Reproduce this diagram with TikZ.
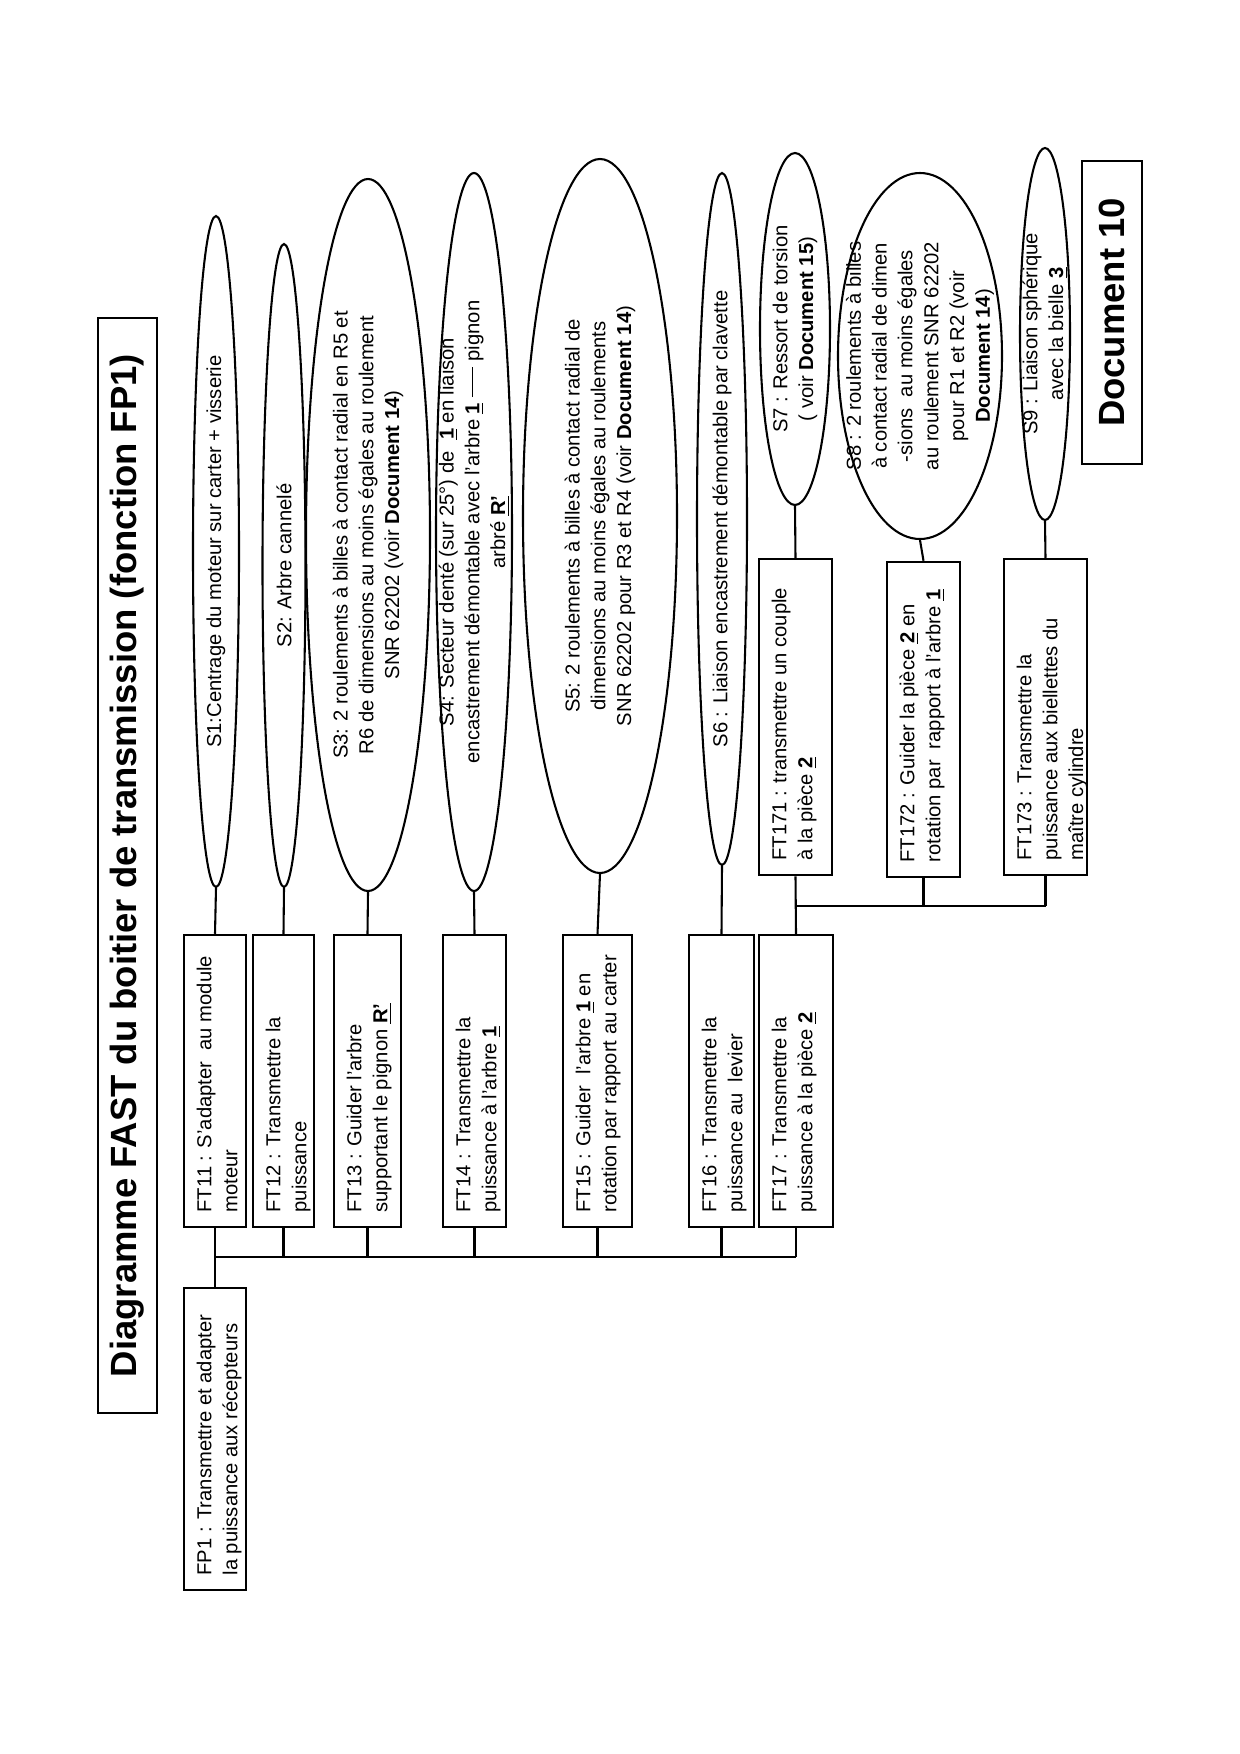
\documentclass[tikz,border=0pt]{standalone}
\usepackage{fontspec}
\setmainfont{Liberation Sans}
\usetikzlibrary{shapes.geometric}
\newcommand\ul[1]{\underline{\textbf{#1}}}
\def\pxpt{0.48}
\def\padh{7}
\def\padv{4.5}
\newcommand\fnt{\fontsize{9.7}{12.4}\selectfont}
\tikzset{
 ftbox/.style={draw, rectangle, line width=1.2pt, rotate=90, inner xsep=\padh pt, inner ysep=\padv pt},
 sell/.style={draw, ellipse, line width=1pt, rotate=90, inner sep=0pt},
 stext/.style={rotate=90, align=center, font=\fnt, inner sep=0pt},
 link/.style={line width=1pt},
 titlebox/.style={draw, rectangle, line width=1.3pt, rotate=90, inner sep=0pt,
   font=\fontsize{17.5}{21}\selectfont\bfseries},
}
% name, xleft, ytop, xright, ybottom, lines
\newcommand\ftnode[6]{%
 \pgfmathsetmacro\tmpw{(#4-#2)*\pxpt-2*\padv}%
 \pgfmathsetmacro\tmph{(#5-#3)*\pxpt-2*\padh}%
 \node[ftbox] (#1) at ({(#2+#4)/2},{(#3+#5)/2})
   {\parbox[c][\tmpw pt][t]{\tmph pt}{\fnt\begin{tabular}{@{}l@{}}#6\end{tabular}}};%
}
% name, cx, cy, half width (page x), half height (page y), text
\newcommand\snode[6]{%
 \pgfmathsetmacro\tmpa{2*#5*\pxpt}%
 \pgfmathsetmacro\tmpb{2*#4*\pxpt}%
 \node[sell, minimum width=\tmpa pt, minimum height=\tmpb pt] (#1) at (#2,#3) {};%
 \node[stext] (#1t) at (#2,#3) {#6};%
}
\begin{document}
\begin{tikzpicture}[x=0.48pt,y=-0.48pt]
\useasboundingbox (0,0) rectangle (1240,1754);
\fill[white] (0,0) rectangle (1240,1754);

% titles
\node[titlebox, minimum width=525.6pt, minimum height=28.3pt] (title) at (127.5,865.5)
  {Diagramme FAST du boitier de transmission (fonction FP1)};
\node[titlebox, minimum width=145.4pt, minimum height=28.8pt] (doc) at (1112,312.5)
  {Document 10};

% function boxes
\ftnode{fp1}{184}{1288}{246}{1590}{FP1 : Transmettre et adapter\\la puissance aux récepteurs}
\ftnode{ft11}{184}{935}{246}{1227}{FT11 : S’adapter \ au module\\moteur}
\ftnode{ft12}{253}{935}{314}{1227}{FT12 : Transmettre la\\puissance}
\ftnode{ft13}{334}{935}{401}{1227}{FT13 : Guider l’arbre\\supportant le pignon \ul{R’}}
\ftnode{ft14}{443}{935}{506}{1227}{FT14 : Transmettre la\\puissance à l’arbre \ul{1}}
\ftnode{ft15}{563}{935}{632}{1227}{FT15 : Guider \ l’arbre \ul{1} en\\rotation par rapport au carter}
\ftnode{ft16}{689}{935}{754}{1227}{FT16 : Transmettre la\\puissance au \ levier}
\ftnode{ft17}{759}{935}{833}{1227}{FT17 : Transmettre la\\puissance à la pièce \ul{2}}
\ftnode{ft171}{759}{559}{832}{875}{FT171 : transmettre un couple\\à la pièce \ul{2}}
\ftnode{ft172}{887}{562}{960}{877}{FT172 : Guider la pièce \ul{2} en\\rotation par \ rapport à l’arbre \ul{1}}
\ftnode{ft173}{1004}{559}{1087}{875}{FT173 : Transmettre la\\puissance aux biellettes du\\maître cylindre}

% solution ellipses
\snode{s1}{216}{551.5}{23}{335.5}{S1:Centrage du moteur sur carter + visserie}
\snode{s2}{284}{565.5}{21.5}{321.5}{S2: Arbre cannelé}
\snode{s3}{368}{535}{62}{356}{S3: 2 roulements à billes à contact radial en R5 et\\R6 de dimensions au moins égales au roulement\\SNR 62202 (voir \textbf{Document 14})}
\snode{s4}{474}{532}{38}{359}{S4: Secteur denté (sur 25°) de \ \ul{1} en liaison\\encastrement démontable avec l’arbre \ul{1} \rule[0.3em]{1.5em}{0.07em} pignon\\arbré \ul{R’}}
\snode{s5}{600}{516}{77}{357}{S5: 2 roulements à billes à contact radial de\\dimensions au moins égales au roulements\\SNR 62202 pour R3 et R4 (voir \textbf{Document 14})}
\snode{s6}{722}{519}{25}{346}{S6 : Liaison encastrement démontable par clavette}
\snode{s7}{795}{329}{35}{176}{S7 : Ressort de torsion\\( voir \textbf{Document 15})}
\snode{s8}{920}{356}{82}{183}{S8 : 2 roulements à billes\\à contact radial de dimen\\-sions \ au moins égales\\au roulement SNR 62202\\pour R1 et R2 (voir\\\textbf{Document 14})}
\snode{s9}{1045}{334}{25}{186}{S9 : Liaison sphérique\\avec la bielle \ul{3}}

% main bus
\coordinate (busy) at (0,1257);
\coordinate (subbusy) at (0,906);
\draw[link] (fp1.east) -- (fp1.east |- busy);
\draw[link] (ft11.west |- busy) -- (ft17.west |- busy);
\foreach \n in {ft11,ft12,ft13,ft14,ft15,ft16,ft17}
  \draw[link] (\n.west) -- (\n.west |- busy);
% links to solutions
\draw[link] (ft11.east) -- (s1.west);
\draw[link] (ft12.east) -- (s2.west);
\draw[link] (ft13.east) -- (s3.west);
\draw[link] (ft14.east) -- (s4.west);
\draw[link] (ft15.east) -- (s5.west);
\draw[link] (ft16.east) -- (s6.west);
% FT17 sub-branch
\draw[link] (ft17.east) -- (ft171.west);
\draw[link] (ft171.west |- subbusy) -- (ft173.west |- subbusy);
\draw[link] (ft172.west) -- (ft172.west |- subbusy);
\draw[link] (ft173.west) -- (ft173.west |- subbusy);
\draw[link] (ft171.east) -- (s7.west);
\draw[link] (ft172.east) -- (s8.west);
\draw[link] (ft173.east) -- (s9.west);
\end{tikzpicture}
\end{document}
